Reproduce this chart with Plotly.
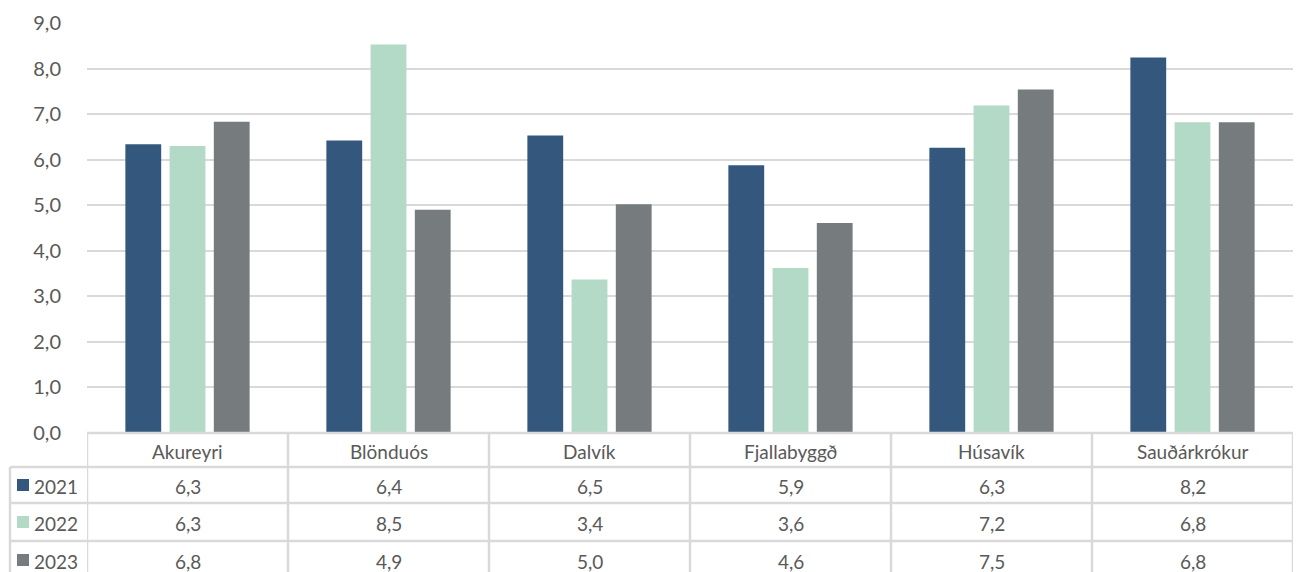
import plotly.graph_objects as go

categories = ["Akureyri", "Blönduós", "Dalvík", "Fjallabyggð", "Húsavík", "Sauðárkrókur"]
years = ["2021", "2022", "2023"]
values_2021 = [6.34, 6.42, 6.53, 5.88, 6.26, 8.24]
values_2022 = [6.30, 8.53, 3.37, 3.62, 7.19, 6.82]
values_2023 = [6.83, 4.90, 5.02, 4.61, 7.54, 6.82]
colors = ["#34587D", "#B3D9C7", "#767B7E"]
series = [values_2021, values_2022, values_2023]

W, H = 1299, 572
ML, MR, MT, MB = 87, 6, 23, 139
PW = W - ML - MR
PH = H - MT - MB

FONT = "Lato"
TXT = "#595959"
GRID = "#D9D9D9"
FS = 19

fig = go.Figure()
for yr, vals, col in zip(years, series, colors):
    fig.add_trace(go.Bar(x=categories, y=vals, name=yr,
                         marker=dict(color=col, line=dict(width=0))))

def py(px):
    return (H - MB - px) / PH

def pxx(px):
    return (px - ML) / PW

shapes = []
annotations = []
n = len(categories)
row_lines = [467, 503, 541]
text_centers = [486, 523, 561]
bottom = py(600)
# vertical lines of table
for i in range(n + 1):
    shapes.append(dict(type="line", xref="x", yref="paper", x0=i - 0.5, x1=i - 0.5,
                       y0=0, y1=bottom, line=dict(color=GRID, width=2.5)))
shapes.append(dict(type="line", xref="paper", yref="paper", x0=pxx(10), x1=pxx(10),
                   y0=py(467), y1=bottom, line=dict(color=GRID, width=2.5)))
# horizontal lines
shapes.append(dict(type="line", xref="x", yref="paper", x0=-0.5, x1=n - 0.5,
                   y0=0, y1=0, line=dict(color=GRID, width=2.5)))
for yb in row_lines:
    shapes.append(dict(type="line", xref="paper", yref="paper", x0=pxx(10), x1=1,
                       y0=py(yb), y1=py(yb), line=dict(color=GRID, width=2.5)))
# header
for c in categories:
    annotations.append(dict(xref="x", yref="paper", x=c, y=py(451), text=c, showarrow=False,
                            yanchor="middle", font=dict(family=FONT, size=FS, color=TXT)))
# rows
for r, (yr, vals, col) in enumerate(zip(years, series, colors)):
    yc = text_centers[r]
    for c, v in zip(categories, vals):
        annotations.append(dict(xref="x", yref="paper", x=c, y=py(yc),
                                text=f"{v:.1f}".replace(".", ","), showarrow=False,
                                yanchor="middle", font=dict(family=FONT, size=FS, color=TXT)))
    shapes.append(dict(type="rect", xref="paper", yref="paper", x0=pxx(17), x1=pxx(29),
                       y0=py(yc + 5), y1=py(yc - 7), fillcolor=col, line=dict(width=0)))
    annotations.append(dict(xref="paper", yref="paper", x=pxx(32), y=py(yc), text=yr,
                            xanchor="left", yanchor="middle", showarrow=False,
                            font=dict(family=FONT, size=FS, color=TXT)))

fig.update_layout(
    width=W, height=H,
    margin=dict(l=ML, r=MR, t=MT, b=MB),
    plot_bgcolor="white", paper_bgcolor="white",
    separators=",.",
    barmode="group", bargap=0.34, bargroupgap=0.19,
    showlegend=False,
    font=dict(family=FONT, color=TXT),
    xaxis=dict(showticklabels=False, showgrid=False, zeroline=False, showline=False,
               range=[-0.5, n - 0.5], ticks="", automargin=False),
    yaxis=dict(range=[0, 9], dtick=1, tickformat=".1f", showgrid=True, gridcolor=GRID,
               gridwidth=2, zeroline=False, showline=False, ticks="", automargin=False,
               tickfont=dict(family=FONT, size=20, color=TXT), ticklabelstandoff=25),
    shapes=shapes, annotations=annotations,
)

fig.write_html(
    "out.html",
    config={"displayModeBar": False},
    post_script="document.body.style.margin='0';document.body.style.overflow='hidden';",
)
